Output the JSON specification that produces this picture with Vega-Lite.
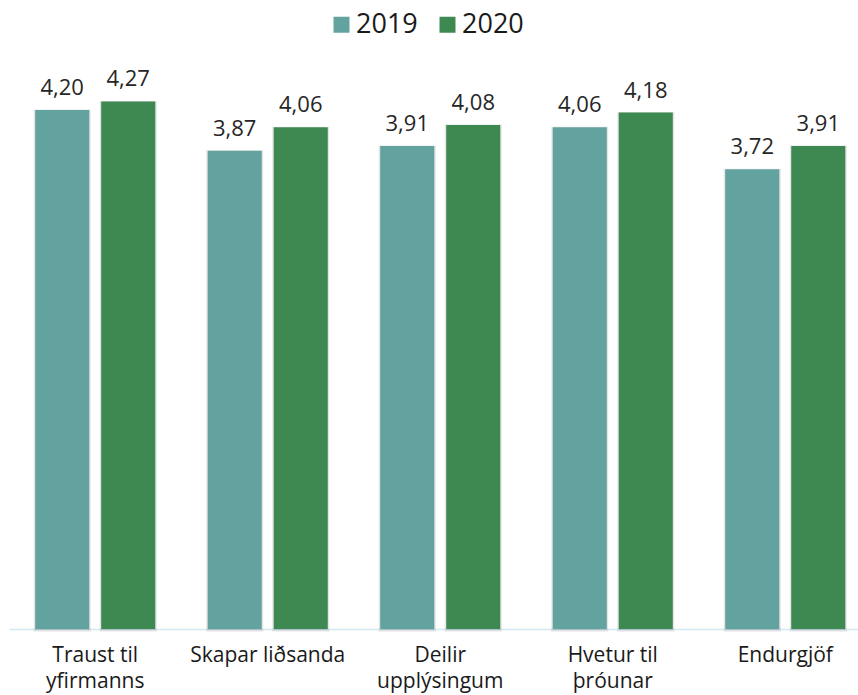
{
  "$schema": "https://vega.github.io/schema/vega-lite/v6.json",
  "width": 849,
  "height": 556,
  "autosize": {"type": "none"},
  "padding": {"left": 9, "top": 73, "right": 0, "bottom": 66},
  "config": {
    "view": {"stroke": null},
    "font": "Open Sans",
    "locale": {"number": {"decimal": ",", "thousands": ".", "grouping": [3], "currency": ["", ""]}}
  },
  "data": {
    "values": [
      {"cat": "Traust til|yfirmanns", "year": "2019", "value": 4.20},
      {"cat": "Traust til|yfirmanns", "year": "2020", "value": 4.27},
      {"cat": "Skapar liðsanda", "year": "2019", "value": 3.87},
      {"cat": "Skapar liðsanda", "year": "2020", "value": 4.06},
      {"cat": "Deilir|upplýsingum", "year": "2019", "value": 3.91},
      {"cat": "Deilir|upplýsingum", "year": "2020", "value": 4.08},
      {"cat": "Hvetur til|þróunar", "year": "2019", "value": 4.06},
      {"cat": "Hvetur til|þróunar", "year": "2020", "value": 4.18},
      {"cat": "Endurgjöf", "year": "2019", "value": 3.72},
      {"cat": "Endurgjöf", "year": "2020", "value": 3.91}
    ]
  },
  "encoding": {
    "x": {
      "field": "cat",
      "type": "nominal",
      "sort": null,
      "scale": {"range": [0, 862.5], "paddingInner": 0.3043, "paddingOuter": 0.152},
      "axis": {
        "title": null,
        "labelAngle": 0,
        "ticks": false,
        "domainColor": "#d3eaf3",
        "domainWidth": 1.5,
        "labelFontSize": 21,
        "labelColor": "#1a1a1a",
        "labelPadding": 15,
        "labelLimit": 300,
        "labelLineHeight": 26,
        "labelExpr": "split(datum.label, '|')"
      }
    },
    "xOffset": {"field": "year", "type": "nominal", "scale": {"paddingInner": 0.1818, "paddingOuter": 0}},
    "y": {"field": "value", "type": "quantitative", "scale": {"domain": [0, 4.5]}, "axis": null}
  },
  "layer": [
    {
      "mark": {"type": "bar", "fill": "#000000", "fillOpacity": 0.08, "stroke": "#000000", "strokeOpacity": 0.1, "strokeWidth": 3, "xOffset": 1.5, "yOffset": 1},
      "encoding": {}
    },
    {
      "mark": {"type": "bar"},
      "encoding": {
        "color": {
          "field": "year",
          "type": "nominal",
          "scale": {"domain": ["2019", "2020"], "range": ["#62A39F", "#3E8952"]},
          "legend": {
            "orient": "none",
            "legendX": 319,
            "legendY": -62,
            "direction": "horizontal",
            "title": null,
            "symbolType": "square",
            "symbolSize": 256,
            "symbolStrokeWidth": 0,
            "labelFontSize": 27,
            "labelColor": "#1a1a1a",
            "labelOffset": 1,
            "columnPadding": 16,
            "padding": 0
          }
        }
      }
    },
    {
      "mark": {"type": "text", "baseline": "alphabetic", "dy": -15, "fontSize": 22, "color": "#262626"},
      "encoding": {
        "text": {"field": "value", "type": "quantitative", "format": ".2f"}
      }
    }
  ]
}
